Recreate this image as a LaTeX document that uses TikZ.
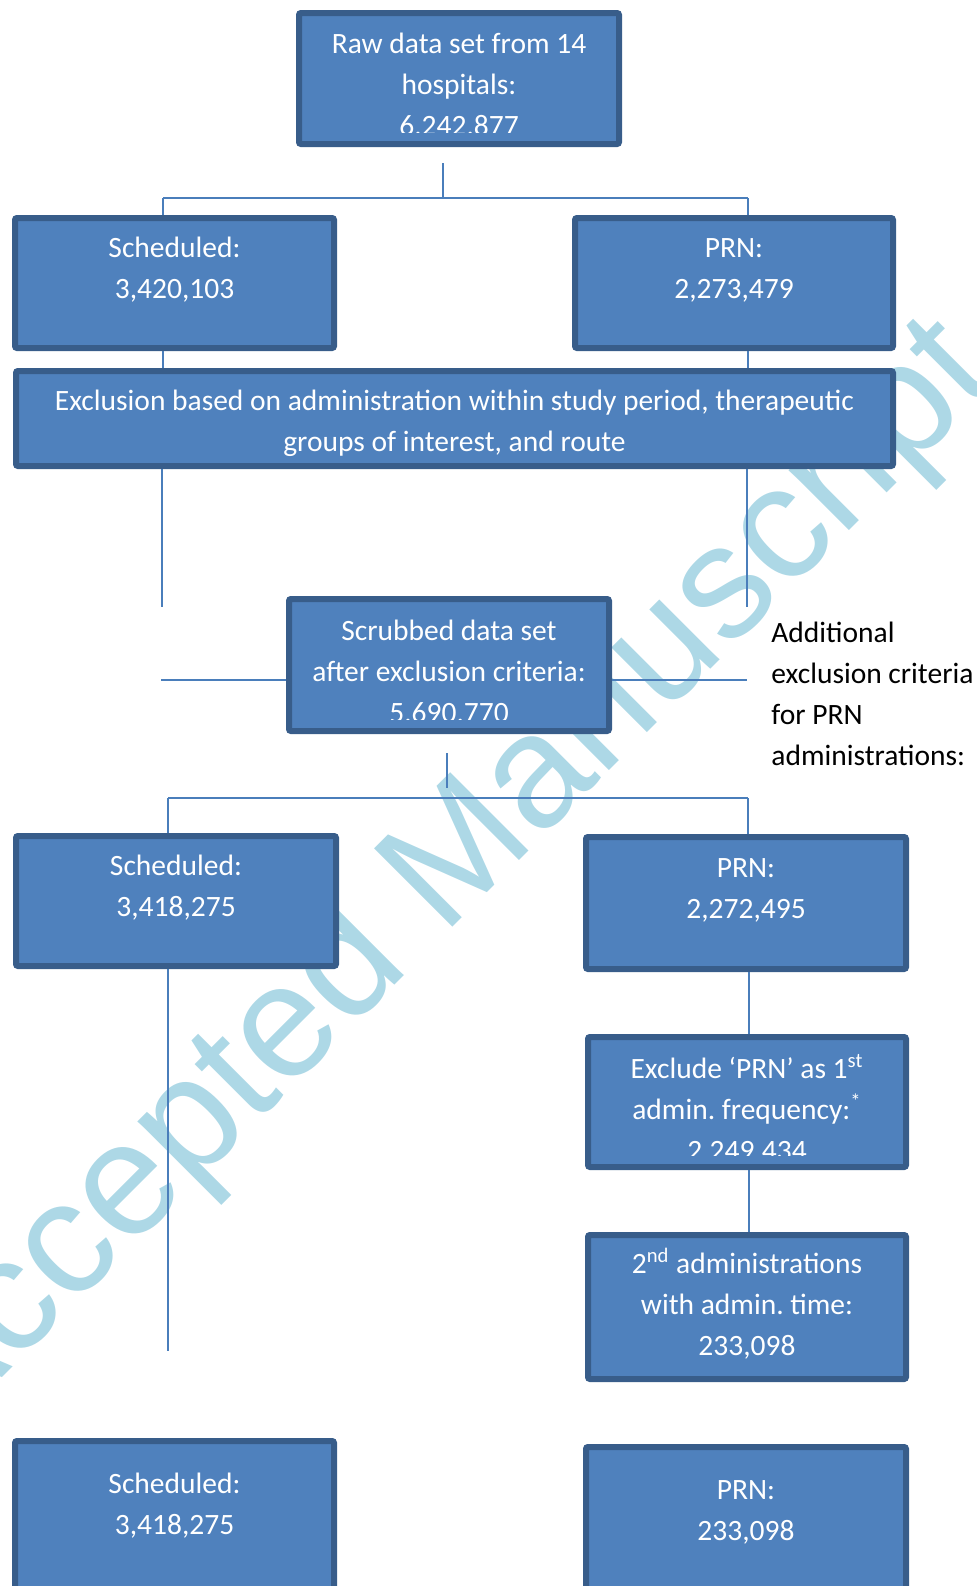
\documentclass[tikz,border=0pt]{standalone}
\usepackage{fontspec}
\setmainfont{Carlito}
\newfontfamily\wmfont{Liberation Sans}
\usetikzlibrary{calc, positioning}
\definecolor{boxfill}{RGB}{79,129,189}
\definecolor{boxline}{RGB}{56,93,138}
\definecolor{linecol}{RGB}{74,126,187}
\definecolor{wmblue}{RGB}{173,216,230}
\newcommand{\boxfont}{\fontsize{14.75pt}{20.5pt}\selectfont\frenchspacing}
\begin{document}
\begin{tikzpicture}[x=0.5pt, y=-0.5pt,
        n/.style={draw=boxline, fill=boxfill, line width=3pt, rounded corners=1pt,
          minimum width=160pt, minimum height=65pt, inner sep=0},
        nt/.style={text=white, font=\boxfont,
          text width=#1, align=flush center, inner sep=0, anchor=base},
        nt/.default=170pt,
        e/.style={draw=linecol, line width=1pt},
        wm/.style={text=wmblue, font=\wmfont\fontsize{80.5pt}{90pt}\selectfont,
          rotate=45, anchor=base west, inner sep=0}]
        \useasboundingbox (0,0) rectangle (976,1586);
        \clip (0,0) rectangle (976,1586);

        % watermark behind everything
        \node[wm] (wm) at (-63,1443) {Accepted Manuscript};

        % boxes
        \node[n, minimum height=65.5pt] (raw) at (459,78.5) {};
        \node[n, minimum width=159.5pt] (sched1) at (174.5,283) {};
        \node[n, minimum width=159pt] (prn1) at (734,283) {};
        \node[n, minimum width=438.5pt, minimum height=47.5pt] (excl) at (454.5,418.5) {};
        \node[n, minimum height=66pt] (scrub) at (449,665) {};
        \node[n] (sched2) at (176,901) {};
        \node[n, minimum height=66pt] (prn2) at (746,903) {};
        \node[n, minimum width=159pt] (excl2) at (747,1102) {};
        \node[n, minimum width=159pt, minimum height=72pt] (second) at (747,1307) {};
        \node[n, minimum width=159.5pt, minimum height=98pt] (sched3) at (174.5,1539) {};
        \node[n, minimum height=95pt] (prn3) at (746,1542) {};

        % connectors
        \coordinate (r0) at (443,163); \coordinate (r1) at (443,198);
        \coordinate (j1) at (163,198); \coordinate (j2) at (748,198);
        \draw[e] (r0) -- (r1);
        \draw[e] (j1) -- (j2);
        \draw[e] (j1) -- (j1 |- sched1.north);
        \draw[e] (j2) -- (j2 |- prn1.north);
        \draw[e] (j1 |- sched1.south) -- (j1 |- excl.north);
        \draw[e] (j2 |- prn1.south) -- (j2 |- excl.north);

        \coordinate (a1) at (162,607); \coordinate (a2) at (747,607);
        \coordinate (h1) at (161,680); \coordinate (h2) at (747,680);
        \draw[e] (a1 |- excl.south) -- (a1);
        \draw[e] (a2 |- excl.south) -- (a2);
        \draw[e] (h1) -- (h1 -| scrub.west);
        \draw[e] (h2 -| scrub.east) -- (h2);

        \coordinate (s0) at (447,753); \coordinate (s1) at (447,788);
        \coordinate (k1) at (168,798); \coordinate (k2) at (748,798);
        \draw[e] (s0) -- (s1);
        \draw[e] (k1) -- (k2);
        \draw[e] (k1) -- (k1 |- sched2.north);
        \draw[e] (k2) -- (k2 |- prn2.north);

        \coordinate (b1) at (168,1351); \coordinate (m) at (749,1000);
        \draw[e] (b1 |- sched2.south) -- (b1);
        \draw[e] (m |- prn2.south) -- (m |- excl2.north);
        \draw[e] (m |- excl2.south) -- (m |- second.north);

        % texts
        \begin{scope}
          \clip ($(raw.south west)+(0,-15)$) rectangle (raw.north east);
          \node[nt] (t-raw) at ($(raw.north)+(0,43)$) {Raw data set from 14\\hospitals:\\6,242,877};
        \end{scope}
        \node[nt] (t-sched1) at ($(sched1.north)+(0,42)$) {Scheduled:\\3,420,103};
        \node[nt] (t-prn1) at ($(prn1.north)+(0,42)$) {PRN:\\2,273,479};
        \node[nt=440pt] (t-excl) at ($(excl.north)+(0,42)$) {Exclusion based on administration within study period, therapeutic\\groups of interest, and route};
        \begin{scope}
          \clip ($(scrub.south west)+(0,-15)$) rectangle (scrub.north east);
          \node[nt] (t-scrub) at ($(scrub.north)+(0,44)$) {Scrubbed data set\\after exclusion criteria:\\5,690,770};
        \end{scope}
        \node[nt] (t-sched2) at ($(sched2.north)+(0,42)$) {Scheduled:\\3,418,275};
        \node[nt] (t-prn2) at ($(prn2.north)+(0,43)$) {PRN:\\2,272,495};
        \begin{scope}
          \clip ($(excl2.south west)+(0,-15)$) rectangle (excl2.north east);
          \node[nt] (t-excl2) at ($(excl2.north)+(0,44)$) {Exclude ‘PRN’ as 1\textsuperscript{st}\\admin. frequency:\textsuperscript{*}\\2,249,434};
        \end{scope}
        \node[nt] (t-second) at ($(second.north)+(0,41)$) {2\textsuperscript{nd} administrations\\with admin. time:\\233,098};
        \node[nt] (t-sched3) at ($(sched3.north)+(0,55)$) {Scheduled:\\3,418,275};
        \node[nt] (t-prn3) at ($(prn3.north)+(0,55)$) {PRN:\\233,098};

        \node[font=\boxfont, text width=110pt, align=flush left,
          inner sep=0, anchor=base west] (note) at (771,642)
          {Additional\\exclusion criteria\\for PRN\\administrations:};
\end{tikzpicture}
\end{document}
